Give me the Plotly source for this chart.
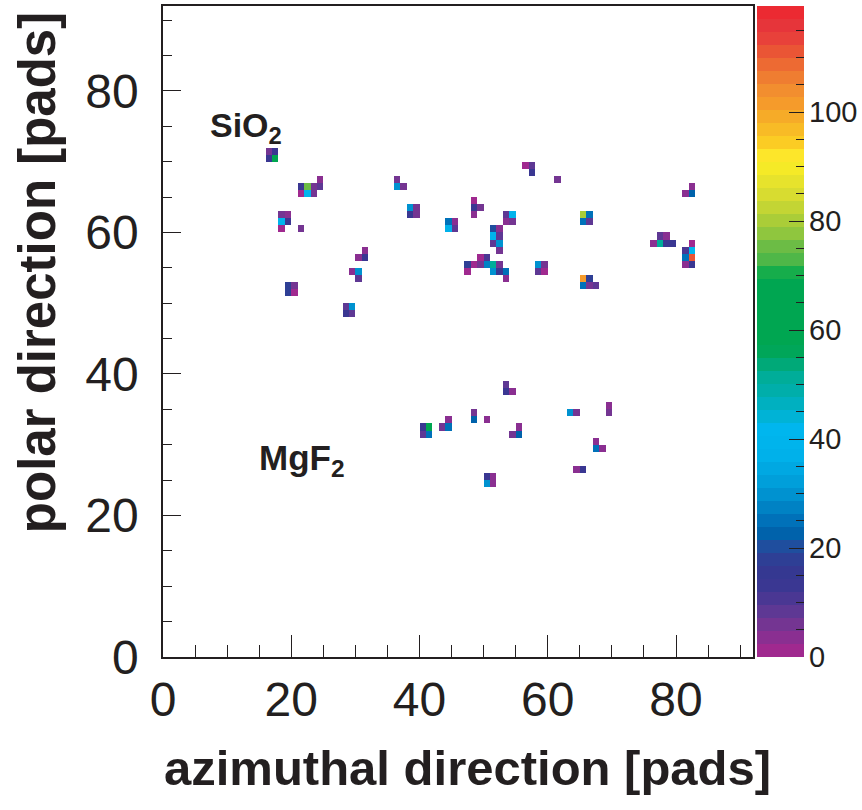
import plotly.graph_objects as go

# ---------------- data (pad indices and hit counts) ----------------
pad_x = [16, 17, 16, 17,
         24, 21, 22, 23, 24, 21, 22, 23,
         18, 19, 18, 19, 18, 21,
         31, 30, 31, 29, 30, 30,
         19, 20, 19, 20,
         28, 29, 28, 29,
         36, 36, 37, 38, 39, 38, 39,
         48, 48, 49, 48, 44, 45, 44, 45,
         53, 54, 53, 54,
         51, 52, 51, 52, 51, 52, 52,
         49, 50, 47, 48, 49, 50, 51, 52, 47, 51, 52, 53, 53,
         58, 59, 58, 59,
         56, 57, 57, 61,
         65, 66, 65, 66,
         65, 66, 65, 66, 67,
         77, 78, 76, 77, 78, 79,
         82, 81, 82, 81, 82, 81, 82,
         82, 81, 82,
         53, 53, 54,
         48, 48, 50, 44,
         40, 41, 43, 44, 40, 41,
         55, 54, 55,
         50, 51, 50, 51,
         69, 69, 63, 64,
         67, 67, 68,
         64, 65]
pad_y = [71, 71, 70, 70,
         67, 66, 66, 66, 66, 65, 65, 65,
         62, 62, 61, 61, 60, 60,
         57, 56, 56, 54, 54, 53,
         52, 52, 51, 51,
         49, 49, 48, 48,
         67, 66, 66, 63, 63, 62, 62,
         64, 63, 63, 62, 61, 61, 60, 60,
         62, 62, 61, 61,
         60, 60, 59, 59, 58, 58, 57,
         56, 56, 55, 55, 55, 55, 55, 55, 54, 54, 54, 54, 53,
         55, 55, 54, 54,
         69, 69, 68, 67,
         62, 62, 61, 61,
         53, 53, 52, 52, 52,
         59, 59, 58, 58, 58, 58,
         58, 57, 57, 56, 56, 55, 55,
         66, 65, 65,
         38, 37, 37,
         34, 33, 33, 33,
         32, 32, 32, 32, 31, 31,
         32, 31, 31,
         25, 25, 24, 24,
         35, 34, 34, 34,
         30, 29, 29,
         26, 26]
hits = [6, 13, 13, 64,
        3, 13, 75, 6, 8, 1, 40, 5,
        6, 3, 40, 13, 1, 6,
        3, 3, 13, 3, 29, 8,
        17, 5, 17, 1,
        8, 29, 13, 8,
        6, 31, 6, 29, 6, 13, 5,
        1, 13, 5, 3, 25, 3, 38, 8,
        8, 40, 3, 6,
        20, 3, 40, 8, 8, 29, 5,
        1, 10, 17, 1, 6, 27, 51, 6, 1, 29, 13, 25, 3,
        31, 5, 8, 1,
        1, 8, 13, 6,
        80, 25, 25, 8,
        101, 17, 25, 6, 8,
        8, 3, 3, 51, 13, 13,
        1, 10, 41, 25, 111, 3, 13,
        3, 3, 22,
        8, 13, 3,
        6, 22, 3, 3,
        13, 64, 6, 25, 8, 25,
        3, 6, 22,
        13, 3, 31, 3,
        3, 6, 29, 6,
        3, 25, 3,
        3, 13]

x_ticks = [0, 20, 40, 60, 80]
y_ticks = [0, 20, 40, 60, 80]
z_ticks = [0, 20, 40, 60, 80, 100]
n_pads = 92
z_max = 119.5

# ROOT "pretty" palette (50 colours) as printed
palette = ["#a0298f", "#8a2f91", "#743592", "#5e3894", "#4a3793", "#3a3792",
           "#353891", "#2e3f95", "#1f4e9e", "#0062ab", "#0071b9", "#0082c4",
           "#0092d0", "#009fda", "#00a8e2", "#00b1ea", "#00b4ec", "#00b6ee",
           "#00b3d6", "#00b0c0", "#00aeaa", "#00ad99", "#00a978", "#00a659",
           "#00a651", "#00a651", "#00a651", "#00a651", "#00a651", "#16ad4b",
           "#4fb748", "#6cbc45", "#8fc63e", "#aacd38", "#c3d534", "#d8dc30",
           "#e7e32c", "#f5ea27", "#fde62a", "#fbcc24", "#f8bb26", "#f6ab28",
           "#f59b2b", "#f28e2f", "#ef7d31", "#ed6a33", "#ea5535", "#e8413a",
           "#e6353a", "#ec2a32"]

# ---------------- build ----------------
nb = len(palette)
cscale = []
for i, c in enumerate(palette):
    cscale.append([i / nb, c])
    cscale.append([(i + 1) / nb, c])

z = [[None] * n_pads for _ in range(n_pads)]
for xx, yy, v in zip(pad_x, pad_y, hits):
    z[yy][xx] = v
centers = [i + 0.5 for i in range(n_pads)]

INK = "#231f20"
FONT = "Liberation Sans, Arial, sans-serif"

fig = go.Figure()
fig.add_trace(go.Heatmap(x=centers, y=centers, z=z, colorscale=cscale,
                         zmin=0, zmax=z_max, showscale=False,
                         xaxis="x", yaxis="y", hoverongaps=False))

band_c = [(i + 0.5) * z_max / nb for i in range(nb)]
fig.add_trace(go.Heatmap(x=[0], y=band_c, z=[[v] for v in band_c],
                         colorscale=cscale, zmin=0, zmax=z_max,
                         showscale=False, xaxis="x2", yaxis="y2"))

W, H = 862, 810
L, R, T, B = 163, 58, 4, 153
pw = W - L - R
ph = H - T - B
main_right = (753 - L) / pw
cb_left = (757 - L) / pw

fig.update_layout(
    width=W, height=H,
    margin=dict(l=L, r=R, t=T, b=B, pad=0),
    paper_bgcolor="white", plot_bgcolor="white",
    showlegend=False,
    font=dict(family=FONT, color=INK),
    xaxis=dict(domain=[0, main_right], range=[0, n_pads], anchor="y",
               showgrid=False, zeroline=False,
               showline=True, linecolor=INK, linewidth=1.5, mirror=True,
               tickmode="array", tickvals=x_ticks,
               ticks="inside", ticklen=22, tickwidth=1.2, tickcolor=INK,
               minor=dict(dtick=5, ticks="inside", ticklen=12,
                          tickwidth=1.2, tickcolor=INK, showgrid=False),
               tickfont=dict(size=48, family=FONT, color=INK),
               ticklabelstandoff=0),
    yaxis=dict(domain=[0, 1], range=[0, n_pads], anchor="x",
               showgrid=False, zeroline=False,
               showline=True, linecolor=INK, linewidth=1.5, mirror=True,
               tickmode="array", tickvals=y_ticks,
               ticks="inside", ticklen=18, tickwidth=1.2, tickcolor=INK,
               minor=dict(dtick=5, ticks="inside", ticklen=9,
                          tickwidth=1.2, tickcolor=INK, showgrid=False),
               tickfont=dict(size=48, family=FONT, color=INK),
               ticklabelstandoff=13),
    xaxis2=dict(domain=[cb_left, 1], range=[-0.5, 0.5], anchor="y2",
                visible=False, fixedrange=True),
    yaxis2=dict(domain=[0, 1], range=[0, z_max], anchor="x2", side="right",
                showgrid=False, zeroline=False, showline=False,
                tickmode="array", tickvals=z_ticks,
                ticks="inside", ticklen=15, tickwidth=1.2, tickcolor=INK,
                minor=dict(dtick=5, ticks="inside", ticklen=8,
                           tickwidth=1.2, tickcolor=INK, showgrid=False),
                tickfont=dict(size=29, family=FONT, color=INK),
                ticklabelstandoff=4),
)

fig.add_annotation(text="<b>azimuthal direction [pads]</b>", xref="paper", yref="paper",
                   x=(467 - L) / pw, y=(657 - 768) / ph,
                   xanchor="center", yanchor="middle", showarrow=False,
                   font=dict(size=49, family=FONT, color=INK))
fig.add_annotation(text="<b>polar direction [pads]</b>", xref="paper", yref="paper",
                   x=(37 - L) / pw, y=(657 - 272) / ph, textangle=-90,
                   xanchor="center", yanchor="middle", showarrow=False,
                   font=dict(size=51, family=FONT, color=INK))
fig.add_annotation(text="<b>SiO<sub>2</sub></b>", xref="x", yref="y",
                   x=7.0, y=74.8, xanchor="left", yanchor="middle", showarrow=False,
                   font=dict(size=34, family=FONT, color=INK))
fig.add_annotation(text="<b>MgF<sub>2</sub></b>", xref="x", yref="y",
                   x=14.6, y=27.9, xanchor="left", yanchor="middle", showarrow=False,
                   font=dict(size=35, family=FONT, color=INK))

fig.write_html("out.html", config={"displayModeBar": False},
               post_script="document.body.style.margin='0';")
